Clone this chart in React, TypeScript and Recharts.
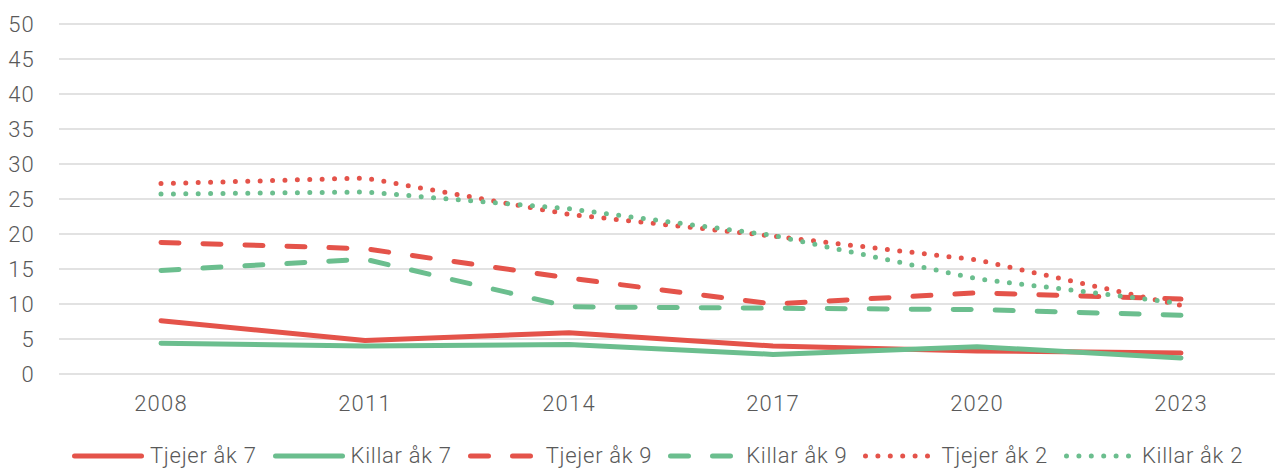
import React from 'react';
import { LineChart, Line, XAxis, YAxis, CartesianGrid, Legend } from 'recharts';

const years = ['2008', '2011', '2014', '2017', '2020', '2023'];
const tjejerAk7 = [7.6, 4.8, 5.9, 4.0, 3.3, 3.0];
const killarAk7 = [4.4, 4.0, 4.2, 2.8, 3.9, 2.3];
const tjejerAk9 = [18.8, 17.9, 13.7, 10.0, 11.6, 10.7];
const killarAk9 = [14.8, 16.4, 9.6, 9.4, 9.2, 8.4];
const tjejerAk2 = [27.2, 28.0, 22.8, 19.7, 16.3, 9.8];
const killarAk2 = [25.7, 26.0, 23.6, 19.8, 13.6, 10.1];
const yTicks = [0, 5, 10, 15, 20, 25, 30, 35, 40, 45, 50];

const RED = '#E4534A';
const GREEN = '#6BBE8E';
const DASH = '18 24';
const DOT = '0 12.4';

const series = [
    { key: 'tjejerAk7', name: 'Tjejer åk 7', values: tjejerAk7, color: RED, dash: undefined },
    { key: 'killarAk7', name: 'Killar åk 7', values: killarAk7, color: GREEN, dash: undefined },
    { key: 'tjejerAk9', name: 'Tjejer åk 9', values: tjejerAk9, color: RED, dash: DASH },
    { key: 'killarAk9', name: 'Killar åk 9', values: killarAk9, color: GREEN, dash: DASH },
    { key: 'tjejerAk2', name: 'Tjejer åk 2', values: tjejerAk2, color: RED, dash: DOT },
    { key: 'killarAk2', name: 'Killar åk 2', values: killarAk2, color: GREEN, dash: DOT },
];

// one row per year for recharts
const chartData = years.map((year, i) => {
    const row: any = { year };
    series.forEach((s) => {
        row[s.key] = s.values[i];
    });
    return row;
});

const textStyle = {
    fill: '#595959',
    fontSize: 22,
    fontFamily: 'Roboto',
    fontWeight: 300,
    letterSpacing: 1.2,
};

const renderLegend = () => (
    <div
        style={{
            display: 'flex',
            alignItems: 'center',
            height: 30,
            paddingLeft: 72,
            fontFamily: 'Roboto',
            fontWeight: 300,
            fontSize: 22,
            letterSpacing: 0.7,
            color: '#595959',
            whiteSpace: 'nowrap',
        }}
    >
        {series.map((s) => (
            <div key={s.key} style={{ display: 'flex', alignItems: 'center', marginRight: 16 }}>
                <svg width={72} height={12} style={{ display: 'block' }}>
                    <line
                        x1={2.5}
                        x2={69.5}
                        y1={6}
                        y2={6}
                        stroke={s.color}
                        strokeWidth={5}
                        strokeLinecap="round"
                        strokeDasharray={s.dash}
                    />
                </svg>
                <span style={{ marginLeft: 6, lineHeight: '30px' }}>{s.name}</span>
            </div>
        ))}
    </div>
);

export default function App() {
    return (
        <div
            style={{
                position: 'absolute',
                left: 0,
                top: 0,
                width: 1275,
                height: 468,
                overflow: 'hidden',
                background: '#fff',
            }}
        >
            <LineChart
                width={1290}
                height={480}
                data={chartData}
                margin={{ top: 24, right: 7, left: 0, bottom: 9 }}
            >
                <CartesianGrid vertical={false} stroke="#D9D9D9" strokeWidth={1.5} />
                <XAxis
                    dataKey="year"
                    axisLine={false}
                    tickLine={false}
                    tick={textStyle}
                    tickMargin={15}
                    height={67}
                    padding={{ left: 102, right: 102 }}
                    interval={0}
                />
                <YAxis
                    domain={[0, 50]}
                    ticks={yTicks}
                    interval={0}
                    axisLine={false}
                    tickLine={false}
                    tick={textStyle}
                    tickMargin={18}
                    width={59}
                />
                <Legend verticalAlign="bottom" align="left" content={renderLegend} />
                {series.map((s) => (
                    <Line
                        key={s.key}
                        type="linear"
                        dataKey={s.key}
                        name={s.name}
                        stroke={s.color}
                        strokeWidth={5}
                        strokeDasharray={s.dash}
                        strokeLinecap="round"
                        strokeLinejoin="round"
                        dot={false}
                        activeDot={false}
                        isAnimationActive={false}
                    />
                ))}
            </LineChart>
        </div>
    );
}
